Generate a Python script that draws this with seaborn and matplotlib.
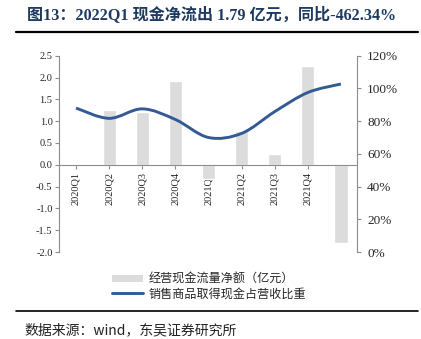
import matplotlib
matplotlib.use("Agg")
import matplotlib.pyplot as plt
import seaborn as sns
import numpy as np
from matplotlib.path import Path
from matplotlib.patches import PathPatch
from matplotlib.lines import Line2D
from matplotlib.patches import Patch

quarters = ["2020Q1", "2020Q2", "2020Q3", "2020Q4", "2021Q1", "2021Q2", "2021Q3", "2021Q4", "2022Q1"]
cash_flow = [0.02, 1.25, 1.22, 1.91, -0.33, 0.77, 0.25, 2.27, -1.79]
ratio = [0.88, 0.817, 0.875, 0.81, 0.70, 0.725, 0.858, 0.975, 1.027]
left_ticks = [2.5, 2.0, 1.5, 1.0, 0.5, 0.0, -0.5, -1.0, -1.5, -2.0]
right_ticks = [0, 0.2, 0.4, 0.6, 0.8, 1.0, 1.2]
title = "图13：2022Q1 现金净流出 1.79 亿元，同比-462.34%"
bar_label = "经营现金流量净额（亿元）"
line_label = "销售商品取得现金占营收比重"
source = "数据来源：wind，东吴证券研究所"

sns.set_style("white")
plt.rcParams['font.family'] = ['Liberation Serif', 'Noto Sans CJK SC', 'DejaVu Sans']

BAR = "#dcdcdc"
LINE = "#335a95"
SPINE = "#8c8c8c"
NAVY = "#1f3a60"

fig = plt.figure(figsize=(4.21, 3.39), dpi=100)
ax = fig.add_axes([0.1413, 0.2566, 0.7078, 0.5791])
sns.barplot(x=quarters, y=cash_flow, color=BAR, width=0.4, saturation=1, ax=ax)
ax.set_xlim(-0.5, 8.5)
ax.set_ylim(-2.0, 2.5)
ax.set_yticks(left_ticks)
ax.set_yticklabels([f"{v:.1f}" for v in left_ticks], fontsize=7.5)
ax.set_xlabel("")
ax.set_ylabel("")
ax.spines['bottom'].set_position(('data', 0))
for s in ['top', 'right']:
    ax.spines[s].set_visible(False)
for s in ['left', 'bottom']:
    ax.spines[s].set_color(SPINE)
    ax.spines[s].set_linewidth(0.8)
ax.tick_params(axis='y', direction='out', length=3, width=0.8, color=SPINE, pad=2, left=True)
ax.tick_params(axis='x', direction='out', length=3, width=0.8, color=SPINE, pad=2, bottom=True)
ax.set_xticks(range(len(quarters)))
ax.set_xticklabels(quarters, rotation=90, fontsize=7.5, va='top')

ax2 = ax.twinx()
ax2.set_ylim(0, 1.2)
ax2.set_yticks(right_ticks)
ax2.set_yticklabels([f"{int(round(v*100))}%" for v in right_ticks], fontsize=9.5)
for s in ['top', 'left', 'bottom']:
    ax2.spines[s].set_visible(False)
ax2.spines['right'].set_color(SPINE)
ax2.spines['right'].set_linewidth(0.8)
ax2.tick_params(axis='y', direction='out', length=3, width=0.8, color=SPINE, pad=4, right=True)
ax2.grid(False)
ax.grid(False)

# smooth line (Catmull-Rom rendered as Bezier path through the data points)
xs = np.arange(len(ratio), dtype=float)
ys = np.array(ratio)
P = np.column_stack([xs, ys])
verts = [tuple(P[0])]
codes = [Path.MOVETO]
n = len(P)
for i in range(n - 1):
    p0 = P[max(i - 1, 0)]
    p1 = P[i]
    p2 = P[i + 1]
    p3 = P[min(i + 2, n - 1)]
    c1 = p1 + (p2 - p0) / 6.0
    c2 = p2 - (p3 - p1) / 6.0
    verts += [tuple(c1), tuple(c2), tuple(p2)]
    codes += [Path.CURVE4] * 3
patch = PathPatch(Path(verts, codes), facecolor='none', edgecolor=LINE, lw=2.1, capstyle='butt')
ax2.add_patch(patch)

handles = [Patch(facecolor=BAR, edgecolor='none'), Line2D([0], [0], color=LINE, lw=2.1)]
fig.legend(handles, [bar_label, line_label], loc='upper left', bbox_to_anchor=(112/421, 1-273/339),
           frameon=False, handlelength=2.6, handleheight=0.55, labelspacing=0.12,
           handletextpad=0.45, borderaxespad=0, borderpad=0,
           prop={'family': ['Noto Sans CJK SC'], 'size': 8.7})

fig.text(27/421, 1-15/339, title, fontsize=11.6, fontweight='bold', color=NAVY, va='center', ha='left',
         family=['Liberation Serif', 'Noto Sans CJK SC'])
fig.add_artist(Line2D([16/421, 418/421], [1-31.5/339, 1-31.5/339], color='black', lw=1.6))
fig.add_artist(Line2D([16/421, 418/421], [1-311/339, 1-311/339], color='black', lw=1.2))
fig.text(24/421, 1-337/339, source, fontsize=10, va='bottom', ha='left', color='#222222',
         family=['Noto Sans CJK SC'])

fig.savefig("out.png", dpi=100)
